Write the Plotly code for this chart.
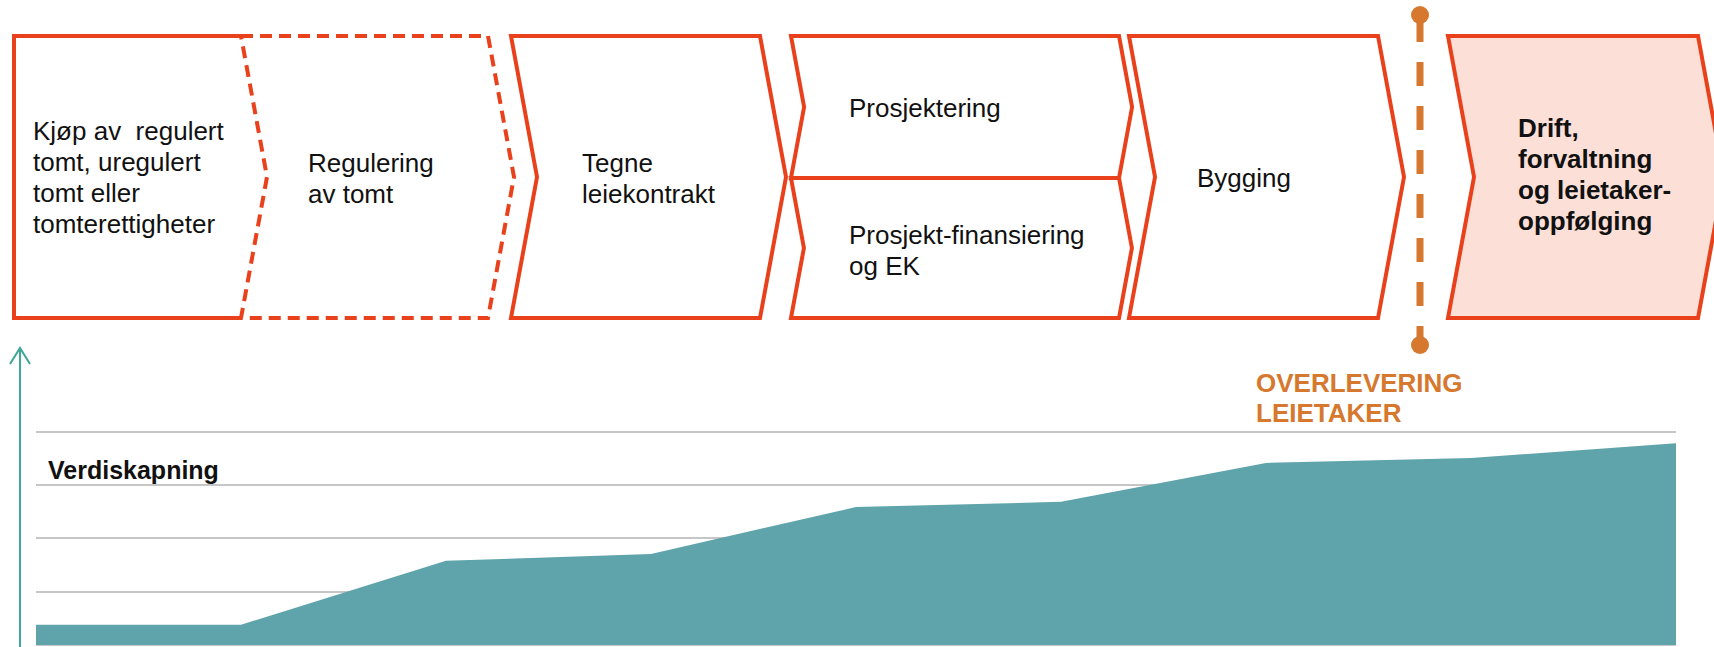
import plotly.graph_objects as go

# ---------------- data ----------------
stages = ["0", "1", "2", "3", "4", "5", "6", "7", "8"]
value_creation = [0.38, 0.38, 1.58, 1.71, 2.59, 2.69, 3.42, 3.51, 3.79]
grid_ticks = [0, 1, 2, 3, 4]

step_lines = [
    ["Kjøp av\u00a0 regulert", "tomt, uregulert", "tomt eller", "tomterettigheter"],
    ["Regulering", "av tomt"],
    ["Tegne", "leiekontrakt"],
    ["Prosjektering"],
    ["Prosjekt-finansiering", "og EK"],
    ["Bygging"],
    ["Drift,", "forvaltning", "og leietaker-", "oppfølging"],
]
step_bold = [False, False, False, False, False, False, True]
handover_lines = ["OVERLEVERING", "LEIETAKER"]
chart_title = "Verdiskapning"

# ---------------- layout constants (pixels) ----------------
W, H = 1714, 647
TOP, BOT, MID = 36, 318, 177
NOTCH = 26
RED = "#e8411b"
ORANGE = "#d6782e"
TEAL_FILL = "#5fa3ab"
TEAL_AXIS = "#3fa898"
PINK = "#fcdfd7"
FONT = "Liberation Sans, Arial, sans-serif"


def chevron(x_l, x_r, top, bot, notch):
    mid = (top + bot) / 2
    n = notch * (bot - top) / (BOT - TOP)
    return (f"M {x_l} {top} L {x_r} {top} L {x_r + n} {mid} L {x_r} {bot} "
            f"L {x_l} {bot} L {x_l + n} {mid} Z")


shapes = []
# step 1 : plain rectangle, its right side is the dashed chevron edge
shapes.append(dict(type="path", path=f"M 241 {TOP} L 14 {TOP} L 14 {BOT} L 241 {BOT}",
                   line=dict(color=RED, width=4)))
# step 2 : dashed chevron
shapes.append(dict(type="path", path=chevron(241, 488, TOP, BOT, NOTCH),
                   line=dict(color=RED, width=4, dash="12px,7px")))
# step 3
shapes.append(dict(type="path", path=chevron(511, 760, TOP, BOT, NOTCH),
                   line=dict(color=RED, width=4)))
# step 4 : two stacked half chevrons
shapes.append(dict(type="path", path=chevron(791, 1119, TOP, MID + 1, NOTCH),
                   line=dict(color=RED, width=4)))
shapes.append(dict(type="path", path=chevron(791, 1119, MID + 1, BOT, NOTCH),
                   line=dict(color=RED, width=4)))
# step 5
shapes.append(dict(type="path", path=chevron(1129, 1378, TOP, BOT, NOTCH),
                   line=dict(color=RED, width=4)))
# step 6 (filled)
shapes.append(dict(type="path", path=chevron(1448, 1698, TOP, BOT, NOTCH),
                   fillcolor=PINK, line=dict(color=RED, width=4)))

# handover marker
shapes.append(dict(type="line", x0=1420, x1=1420, y0=18, y1=343,
                   line=dict(color=ORANGE, width=7, dash="24px,20px")))
shapes.append(dict(type="circle", x0=1411, x1=1429, y0=6, y1=24,
                   fillcolor=ORANGE, line=dict(color=ORANGE, width=0)))
shapes.append(dict(type="circle", x0=1411, x1=1429, y0=336, y1=354,
                   fillcolor=ORANGE, line=dict(color=ORANGE, width=0)))

# vertical value axis with open arrow head
shapes.append(dict(type="path", path="M 20 647 L 20 348 M 10 364 L 20 348 L 30 364",
                   line=dict(color=TEAL_AXIS, width=2)))

annotations = []


def add_lines(lines, x, y_first, line_h, size, color, bold):
    for i, ln in enumerate(lines):
        t = f"<b>{ln}</b>" if bold else ln
        annotations.append(dict(x=x, y=y_first + i * line_h, xref="x", yref="y",
                                text=t, showarrow=False, xanchor="left",
                                yanchor="middle", align="left",
                                font=dict(family=FONT, size=size, color=color)))


text_pos = [
    (30.5, 131, 31),
    (306, 163, 31),
    (580, 163, 31),
    (847, 108, 31),
    (847, 235, 31),
    (1195, 178, 31),
    (1516, 128, 31),
]
for (x, y, lh), lines, b in zip(text_pos, step_lines, step_bold):
    add_lines(lines, x, y, lh, 26, "#111111", b)
add_lines(handover_lines, 1254, 383, 30, 26, ORANGE, True)
add_lines([chart_title], 46, 470, 30, 25, "#111111", True)

fig = go.Figure()
fig.add_trace(go.Scatter(
    x=list(range(len(stages))), y=value_creation,
    xaxis="x2", yaxis="y2", mode="lines", fill="tozeroy",
    fillcolor=TEAL_FILL, line=dict(color=TEAL_FILL, width=0),
    hoverinfo="skip", showlegend=False,
))

# y2: value 0 at pixel 645, value 4 at pixel 432
px_per_unit = (645 - 432) / 4
y_lo, y_hi = -0.03, 4.05
y2_dom = [(H - (645 + (0 - y_lo) * px_per_unit)) / H,
          (H - (432 - (y_hi - 4) * px_per_unit)) / H]
x2_dom = [36 / W, 1676 / W]

fig.update_layout(
    width=W, height=H,
    margin=dict(l=0, r=0, t=0, b=0),
    paper_bgcolor="white", plot_bgcolor="rgba(0,0,0,0)",
    showlegend=False,
    xaxis=dict(range=[0, W], domain=[0, 1], visible=False, fixedrange=True),
    yaxis=dict(range=[H, 0], domain=[0, 1], visible=False, fixedrange=True),
    xaxis2=dict(range=[0, 8], domain=x2_dom, anchor="y2", showgrid=False,
                zeroline=False, showticklabels=False, ticks="", showline=False,
                fixedrange=True),
    yaxis2=dict(range=[y_lo, y_hi], domain=y2_dom, anchor="x2", showgrid=True,
                gridcolor="#c6c6c6", gridwidth=2, tickvals=grid_ticks,
                zeroline=False, showticklabels=False, ticks="", showline=False,
                fixedrange=True),
    shapes=shapes,
    annotations=annotations,
)

fig.write_html("out.html", config={"displayModeBar": False},
               post_script="document.body.style.margin='0px';")
